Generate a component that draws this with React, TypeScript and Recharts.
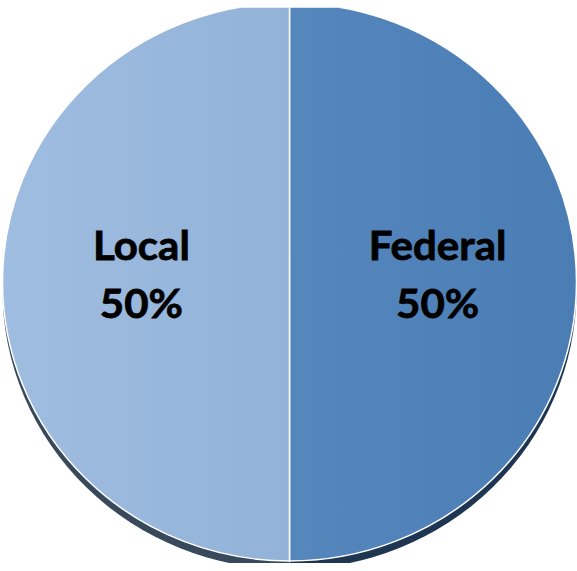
import React from "react";
import { PieChart, Pie, Cell } from "recharts";

const categories = ["Federal", "Local"];
const values = [50, 50];
const percentLabels = ["50%", "50%"];

const data = categories.map((name, i) => ({ name, value: values[i], pct: percentLabels[i] }));

const W = 577;
const H = 571;
const CX = 289.5;
const CY = 282;
const R = 287;
const SY = 279 / 287;

const renderLabel = (props: any) => {
  const { cx, cy, midAngle, outerRadius, index } = props;
  const RAD = Math.PI / 180;
  const r = outerRadius * 0.516;
  const x = cx + r * Math.cos(-midAngle * RAD);
  const y = cy;
  const d = data[index];
  return (
    <text
      x={x}
      y={y}
      textAnchor="middle"
      fill="#000000"
      stroke="#000000"
      strokeWidth={0.8}
      fontFamily="Lato, 'Open Sans', sans-serif"
      fontWeight={700}
      fontSize={42}
    >
      <tspan x={x} y={y - 22.6}>{d.name}</tspan>
      <tspan x={x} y={y + 37}>{d.pct}</tspan>
    </text>
  );
};

export default function App() {
  return (
    <div style={{ position: "absolute", left: 0, top: 0, width: W, height: H, background: "#ffffff" }}>
      <div style={{ transform: `scaleY(${SY})`, transformOrigin: `${CX}px ${CY}px`, width: W, height: H }}>
        <PieChart width={W} height={H} margin={{ top: 0, right: 0, bottom: 0, left: 0 }}>
          <defs>
            <linearGradient id="gLocal" x1="0" y1="0" x2="1" y2="0">
              <stop offset="0%" stopColor="#9ebde1" />
              <stop offset="100%" stopColor="#93b2d7" />
            </linearGradient>
            <linearGradient id="gFederal" x1="0" y1="0" x2="1" y2="0">
              <stop offset="0%" stopColor="#5587bd" />
              <stop offset="100%" stopColor="#4a7db4" />
            </linearGradient>
          </defs>
          <Pie
            data={data}
            dataKey="value"
            nameKey="name"
            cx={CX}
            cy={CY + 8.5}
            outerRadius={R}
            startAngle={90}
            endAngle={-270}
            stroke="none"
            isAnimationActive={false}
            label={false}
            labelLine={false}
          >
            <Cell fill="#1f3652" />
            <Cell fill="#38495c" />
          </Pie>
          <Pie
            data={data}
            dataKey="value"
            nameKey="name"
            cx={CX}
            cy={CY}
            outerRadius={R}
            startAngle={90}
            endAngle={-270}
            stroke="#ffffff"
            strokeWidth={1.5}
            isAnimationActive={false}
            label={renderLabel}
            labelLine={false}
          >
            <Cell fill="url(#gFederal)" />
            <Cell fill="url(#gLocal)" />
          </Pie>
        </PieChart>
      </div>
    </div>
  );
}
